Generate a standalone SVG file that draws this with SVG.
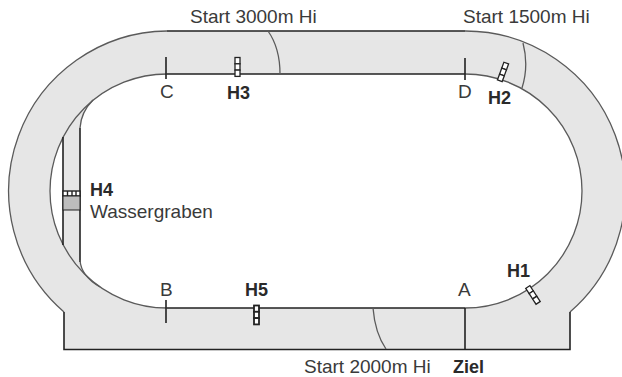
<svg xmlns="http://www.w3.org/2000/svg" width="622" height="377" viewBox="0 0 622 377">
<style>
text{font-family:"Liberation Sans",Arial,sans-serif;font-size:19px;fill:#3a3a3a}
.b{font-weight:bold;font-size:18px;fill:#2a2a2a}
.thin{fill:none;stroke:#5a5a5a;stroke-width:1.3}
.dark{fill:none;stroke:#222;stroke-width:1.6}
.hb{fill:#fff;stroke:#222;stroke-width:1.3}
</style>
<rect width="622" height="377" fill="#fff"/>
<g id="track">
<path d="M167 31H465A160 160 0 0 1 570 312V349.500H64V312A160 160 0 0 1 167 31Z" fill="#e6e6e6"/>
<path d="M167 74H465A117 117 0 0 1 465 308H167A117 117 0 0 1 167 74Z" fill="#fff"/>
<path d="M63 137.500A117 117 0 0 1 93 100Q81 112 80 128V260Q81 276 100 287A117 117 0 0 1 63 245Z" fill="#e6e6e6"/>
</g>
<g id="connectors">
<path class="thin" d="M167 31A160 160 0 0 0 64 312M465 31A160 160 0 0 1 570 312M167 74A117 117 0 0 0 167 308M465 74A117 117 0 0 1 465 308"/>
<path class="dark" d="M167 31H465M167 74H465M167 308H465M64 312V349.500H570V312M63 137V245M80 128V262"/>
<path class="thin" d="M93 100Q81 112 80 128M80 260Q81 276 100 287"/>
<path class="thin" d="M268 31Q280 48 280 74M523 43Q529 66 522 88M373 308Q375 333 386 349"/>
<path class="dark" d="M465 308V349.500M166 57V79M465 58V80M166 300V323"/>
</g>
<g id="h1"><g transform="translate(533 295) rotate(-33)"><rect class="hb" x="-2.500" y="-9.500" width="5" height="6.300"/><rect class="hb" x="-2.500" y="-3.200" width="5" height="6.300"/><rect class="hb" x="-2.500" y="3.100" width="5" height="6.300"/></g><text class="b" x="507" y="277">H1</text></g>
<g id="h2"><g transform="translate(503 72) rotate(20)"><rect class="hb" x="-2.500" y="-9.500" width="5" height="6.300"/><rect class="hb" x="-2.500" y="-3.200" width="5" height="6.300"/><rect class="hb" x="-2.500" y="3.100" width="5" height="6.300"/></g><text class="b" x="488" y="104">H2</text></g>
<g id="h3"><g transform="translate(237.500 67)"><rect class="hb" x="-2.500" y="-9.500" width="5" height="6.300"/><rect class="hb" x="-2.500" y="-3.200" width="5" height="6.300"/><rect class="hb" x="-2.500" y="3.100" width="5" height="6.300"/></g><text class="b" x="227" y="99">H3</text></g>
<g id="h4"><rect x="63" y="191" width="17" height="5" fill="#fff" stroke="#222" stroke-width="1.400"/><path d="M67.500 191V196M72 191V196M76 191V196" stroke="#222" stroke-width="1.400"/><rect x="63" y="196" width="17" height="14" fill="#bdbdbd" stroke="#222" stroke-width="1"/><text class="b" x="90" y="196">H4</text><text x="90" y="218">Wassergraben</text></g>
<g id="h5"><g transform="translate(256.500 315)" style="stroke-width:1.800"><rect class="hb" style="stroke-width:1.800" x="-2.500" y="-9.500" width="5" height="6.300"/><rect class="hb" style="stroke-width:1.800" x="-2.500" y="-3.200" width="5" height="6.300"/><rect class="hb" style="stroke-width:1.800" x="-2.500" y="3.100" width="5" height="6.300"/></g><text class="b" x="245" y="296">H5</text></g>
<g id="labels">
<text x="190" y="23">Start 3000m Hi</text>
<text x="463" y="23">Start 1500m Hi</text>
<text x="304" y="373">Start 2000m Hi</text>
<text class="b" x="453" y="373">Ziel</text>
<text x="160" y="98">C</text><text x="458" y="98">D</text><text x="160" y="296">B</text><text x="458" y="296">A</text>
</g>
</svg>
